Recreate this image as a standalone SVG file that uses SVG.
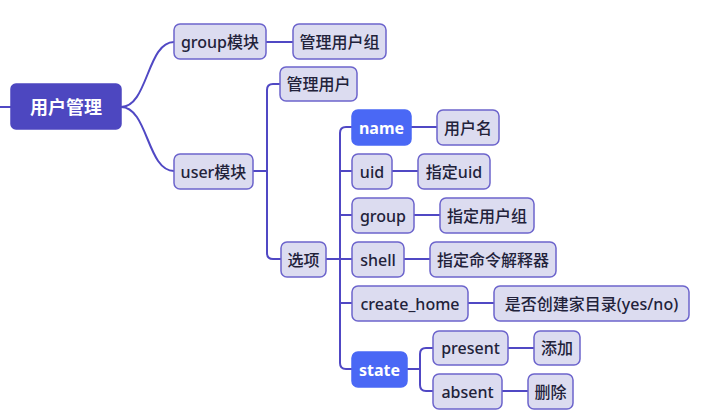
<svg xmlns="http://www.w3.org/2000/svg" width="712" height="418" viewBox="0 0 712 418">
<style>
.n rect{fill:#dcdcf0;stroke:#6c64cc;stroke-width:1.5}
.n text{fill:#22223a;font-family:"Noto Sans","Noto Sans CJK SC",sans-serif;font-size:16px;font-weight:500;text-anchor:middle;dominant-baseline:central}
.h rect{fill:#4a68f5;stroke:#4a68f5}
.h text{fill:#fff;font-weight:700}
.r rect{fill:#4d47c0;stroke:#4d47c0}
.r text{fill:#fff;font-weight:700;font-size:18px}
#edges path{fill:none;stroke:#5048c4;stroke-width:2}
</style>
<rect width="712" height="418" fill="#fff"/>
<g id="edges">
<path d="M0,107 H11"/>
<path d="M121,107 C148,107 147,42 174,42"/>
<path d="M121,107 C148,107 147,171 174,171"/>
<path d="M266,42 H293"/>
<path d="M253,171 H266"/>
<path d="M280,84 H273 Q267,84 267,90 V253 Q267,259 273,259 H281"/>
<path d="M326,259 H340"/>
<path d="M352,127 H346 Q340,127 340,133 V363 Q340,369 346,369 H352"/>
<path d="M340,171 H352 M340,215 H352 M340,259 H352 M340,303 H352"/>
<path d="M411,127 H437"/>
<path d="M392,171 H418"/>
<path d="M414,215 H440"/>
<path d="M404,259 H430"/>
<path d="M468,303 H494"/>
<path d="M407,369 H420"/>
<path d="M433,348 H426 Q420,348 420,354 V385 Q420,391 426,391 H433"/>
<path d="M508,348 H534"/>
<path d="M502,391 H528"/>
</g>
<g id="root" class="n r"><rect x="11" y="84" width="110" height="45" rx="5"/><text x="66" y="106.5">用户管理</text></g>
<g id="group-mod" class="n"><rect x="174" y="24" width="92" height="35" rx="6"/><text x="220" y="41.5">group模块</text></g>
<g id="manage-group" class="n"><rect x="293" y="24" width="93" height="35" rx="6"/><text x="339.5" y="41.5">管理用户组</text></g>
<g id="user-mod" class="n"><rect x="174" y="154" width="79" height="35" rx="6"/><text x="213.5" y="171.5">user模块</text></g>
<g id="manage-user" class="n"><rect x="280" y="67" width="77" height="34" rx="6"/><text x="318.5" y="84">管理用户</text></g>
<g id="options" class="n"><rect x="281" y="242" width="45" height="35" rx="6"/><text x="303.5" y="259.5">选项</text></g>
<g id="name" class="n h"><rect x="352" y="110" width="59" height="35" rx="6"/><text x="381.5" y="127.5">name</text></g>
<g id="username" class="n"><rect x="437" y="110" width="62" height="35" rx="6"/><text x="468" y="127.5">用户名</text></g>
<g id="uid" class="n"><rect x="352" y="154" width="40" height="35" rx="6"/><text x="372" y="171.5">uid</text></g>
<g id="uid-desc" class="n"><rect x="418" y="154" width="72" height="35" rx="6"/><text x="454" y="171.5">指定uid</text></g>
<g id="group" class="n"><rect x="352" y="198" width="62" height="35" rx="6"/><text x="383" y="215.5">group</text></g>
<g id="group-desc" class="n"><rect x="440" y="198" width="94" height="35" rx="6"/><text x="487" y="215.5">指定用户组</text></g>
<g id="shell" class="n"><rect x="352" y="242" width="52" height="35" rx="6"/><text x="378" y="259.5">shell</text></g>
<g id="shell-desc" class="n"><rect x="430" y="242" width="126" height="35" rx="6"/><text x="493" y="259.5">指定命令解释器</text></g>
<g id="create-home" class="n"><rect x="352" y="286" width="116" height="35" rx="6"/><text x="410" y="303.5">create_home</text></g>
<g id="create-home-desc" class="n"><rect x="494" y="286" width="195" height="35" rx="6"/><text x="591.5" y="303.5">是否创建家目录(yes/no)</text></g>
<g id="state" class="n h"><rect x="352" y="352" width="55" height="35" rx="6"/><text x="379.5" y="369.5">state</text></g>
<g id="present" class="n"><rect x="433" y="331" width="75" height="34" rx="6"/><text x="470.5" y="348">present</text></g>
<g id="add" class="n"><rect x="534" y="331" width="46" height="34" rx="6"/><text x="557" y="348">添加</text></g>
<g id="absent" class="n"><rect x="433" y="374" width="69" height="35" rx="6"/><text x="467.5" y="391.5">absent</text></g>
<g id="delete" class="n"><rect x="528" y="374" width="45" height="35" rx="6"/><text x="550.5" y="391.5">删除</text></g>
</svg>
